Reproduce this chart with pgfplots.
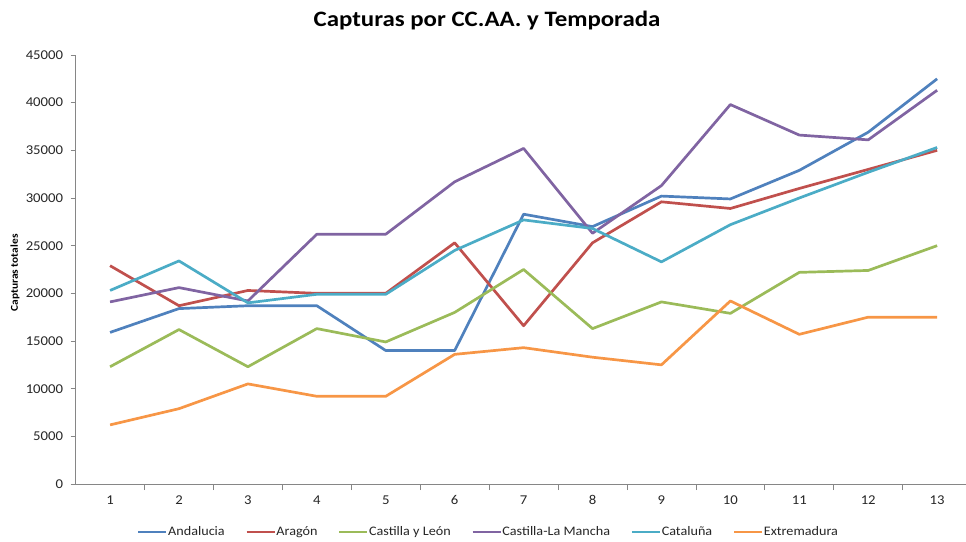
\documentclass[border=0pt]{standalone}
\usepackage{fontspec}
\setmainfont{Carlito}
\newfontfamily\widefont{Carlito}[FakeStretch=1.09]
\newfontfamily\titlefont{Carlito}[FakeStretch=1.13]
\usepackage{pgfplots}
\pgfplotsset{compat=1.18}
\definecolor{cAnd}{HTML}{4F81BD}
\definecolor{cAra}{HTML}{C0504D}
\definecolor{cCyL}{HTML}{9BBB59}
\definecolor{cCLM}{HTML}{8064A2}
\definecolor{cCat}{HTML}{4BACC6}
\definecolor{cExt}{HTML}{F79646}
\definecolor{axisgray}{HTML}{868686}
\begin{document}
\begin{tikzpicture}[x=1pt,y=1pt]
\useasboundingbox (0,0) rectangle (966,541);
\node[font=\titlefont\fontsize{22}{26}\selectfont\bfseries] at (487,520) {Capturas por CC.AA. y Temporada};
\node[font=\widefont\fontsize{10.5}{12}\selectfont\bfseries, rotate=90] at (15,268) {Capturas totales};
\begin{axis}[
  scale only axis, width=896pt, height=429pt,
  at={(75.6pt,57pt)}, anchor=south west,
  xmin=0.5, xmax=13.5, ymin=0, ymax=45000,
  axis x line=bottom, axis y line=left,
  axis line style={-, draw=axisgray, line width=0.8pt},
  xtick={1,...,13},
  major x tick style={draw=none},
  minor xtick={1.5,2.5,...,13.5},
  minor x tick style={draw=axisgray, line width=0.8pt},
  minor tick length=6pt,
  ytick={0,5000,...,45000},
  major y tick style={draw=axisgray, line width=0.8pt},
  major tick length=5pt,
  tick align=outside,
  scaled y ticks=false,
  /pgf/number format/assume math mode=true,
  /pgf/number format/1000 sep={},
  tick label style={font=\widefont\fontsize{13.5}{15}\selectfont, text=black!85},
  xticklabel style={yshift=-3pt},
  yticklabel style={xshift=-4pt},
  legend style={at={(0.46,-0.112)}, anchor=center, draw=none, legend columns=6,
    font=\widefont\fontsize{13}{15}\selectfont, text=black!85,
    nodes={inner xsep=0.5pt},
    /tikz/every even column/.append style={column sep=20pt}},
  legend image code/.code={\draw[#1, line width=2.6pt] (0pt,0pt) -- (28pt,0pt);},
  every axis plot/.append style={line width=2.7pt, line join=round},
  clip=false,
]
\addplot[cAnd] coordinates {(1,15900)(2,18400)(3,18700)(4,18700)(5,14000)(6,14000)(7,28300)(8,27000)(9,30200)(10,29900)(11,32900)(12,36900)(13,42500)};
\addlegendentry{Andalucia}
\addplot[cAra] coordinates {(1,22900)(2,18700)(3,20300)(4,20000)(5,20000)(6,25300)(7,16600)(8,25300)(9,29600)(10,28900)(11,31000)(12,33000)(13,35000)};
\addlegendentry{Aragón}
\addplot[cCyL] coordinates {(1,12300)(2,16200)(3,12300)(4,16300)(5,14900)(6,18000)(7,22500)(8,16300)(9,19100)(10,17900)(11,22200)(12,22400)(13,25000)};
\addlegendentry{Castilla y León}
\addplot[cCLM] coordinates {(1,19100)(2,20600)(3,19200)(4,26200)(5,26200)(6,31700)(7,35200)(8,26300)(9,31300)(10,39800)(11,36600)(12,36100)(13,41300)};
\addlegendentry{Castilla-La Mancha}
\addplot[cCat] coordinates {(1,20300)(2,23400)(3,19000)(4,19900)(5,19900)(6,24500)(7,27700)(8,26800)(9,23300)(10,27200)(11,30000)(12,32700)(13,35300)};
\addlegendentry{Cataluña}
\addplot[cExt] coordinates {(1,6200)(2,7900)(3,10500)(4,9200)(5,9200)(6,13600)(7,14300)(8,13300)(9,12500)(10,19200)(11,15700)(12,17500)(13,17500)};
\addlegendentry{Extremadura}
\end{axis}
\end{tikzpicture}
\end{document}
